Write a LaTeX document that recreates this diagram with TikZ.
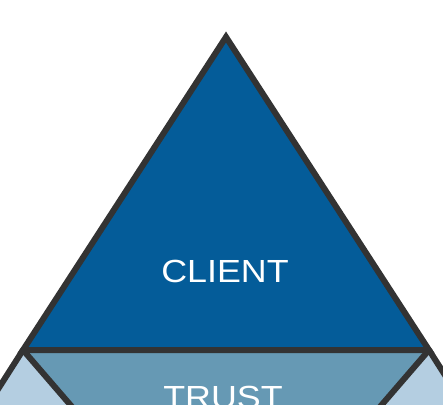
\documentclass[tikz,border=0pt]{standalone}
\usepackage{fontspec}
\newfontfamily\labelfont[FakeStretch=1.12]{Liberation Sans}
\definecolor{clientblue}{RGB}{4,92,153}
\definecolor{trustblue}{RGB}{102,153,180}
\definecolor{sideblue}{RGB}{180,206,225}
\definecolor{edgegray}{RGB}{51,51,51}
\begin{document}
\begin{tikzpicture}[line join=miter,x=1pt,y=-1pt,
  layer/.style={font=\labelfont\fontsize{32}{32}\selectfont,text=white,anchor=base}]
\useasboundingbox (0.,0.) rectangle (443.,404.);
\clip (0.,0.) rectangle (443.,404.);
\coordinate (apex) at (226.,37.);
\coordinate (bl) at (23.,350.);
\coordinate (br) at (429.,350.);
\coordinate (tl) at (92.,430.);
\coordinate (tr) at (360.,430.);
\coordinate (ol) at (-28.,430.);
\coordinate (or) at (480.,430.);
\fill[color=sideblue] (bl) -- (tl) -- (ol) -- cycle;
\fill[color=sideblue] (br) -- (tr) -- (or) -- cycle;
\fill[color=trustblue] (bl) -- (br) -- (tr) -- (tl) -- cycle;
\fill[color=clientblue] (apex) -- (bl) -- (br) -- cycle;
\draw [line width=6pt,color=edgegray] (apex) -- (bl) -- (br) -- cycle;
\draw [line width=6pt,color=edgegray] (bl) -- (tl);
\draw [line width=6pt,color=edgegray] (br) -- (tr);
\draw [line width=6pt,color=edgegray] (bl) -- (ol);
\draw [line width=6pt,color=edgegray] (br) -- (or);
\node[layer] (client) at (225.,282.) {CLIENT};
\node[layer] (trust) at (223.,408.) {TRUST};
\end{tikzpicture}
\end{document}
